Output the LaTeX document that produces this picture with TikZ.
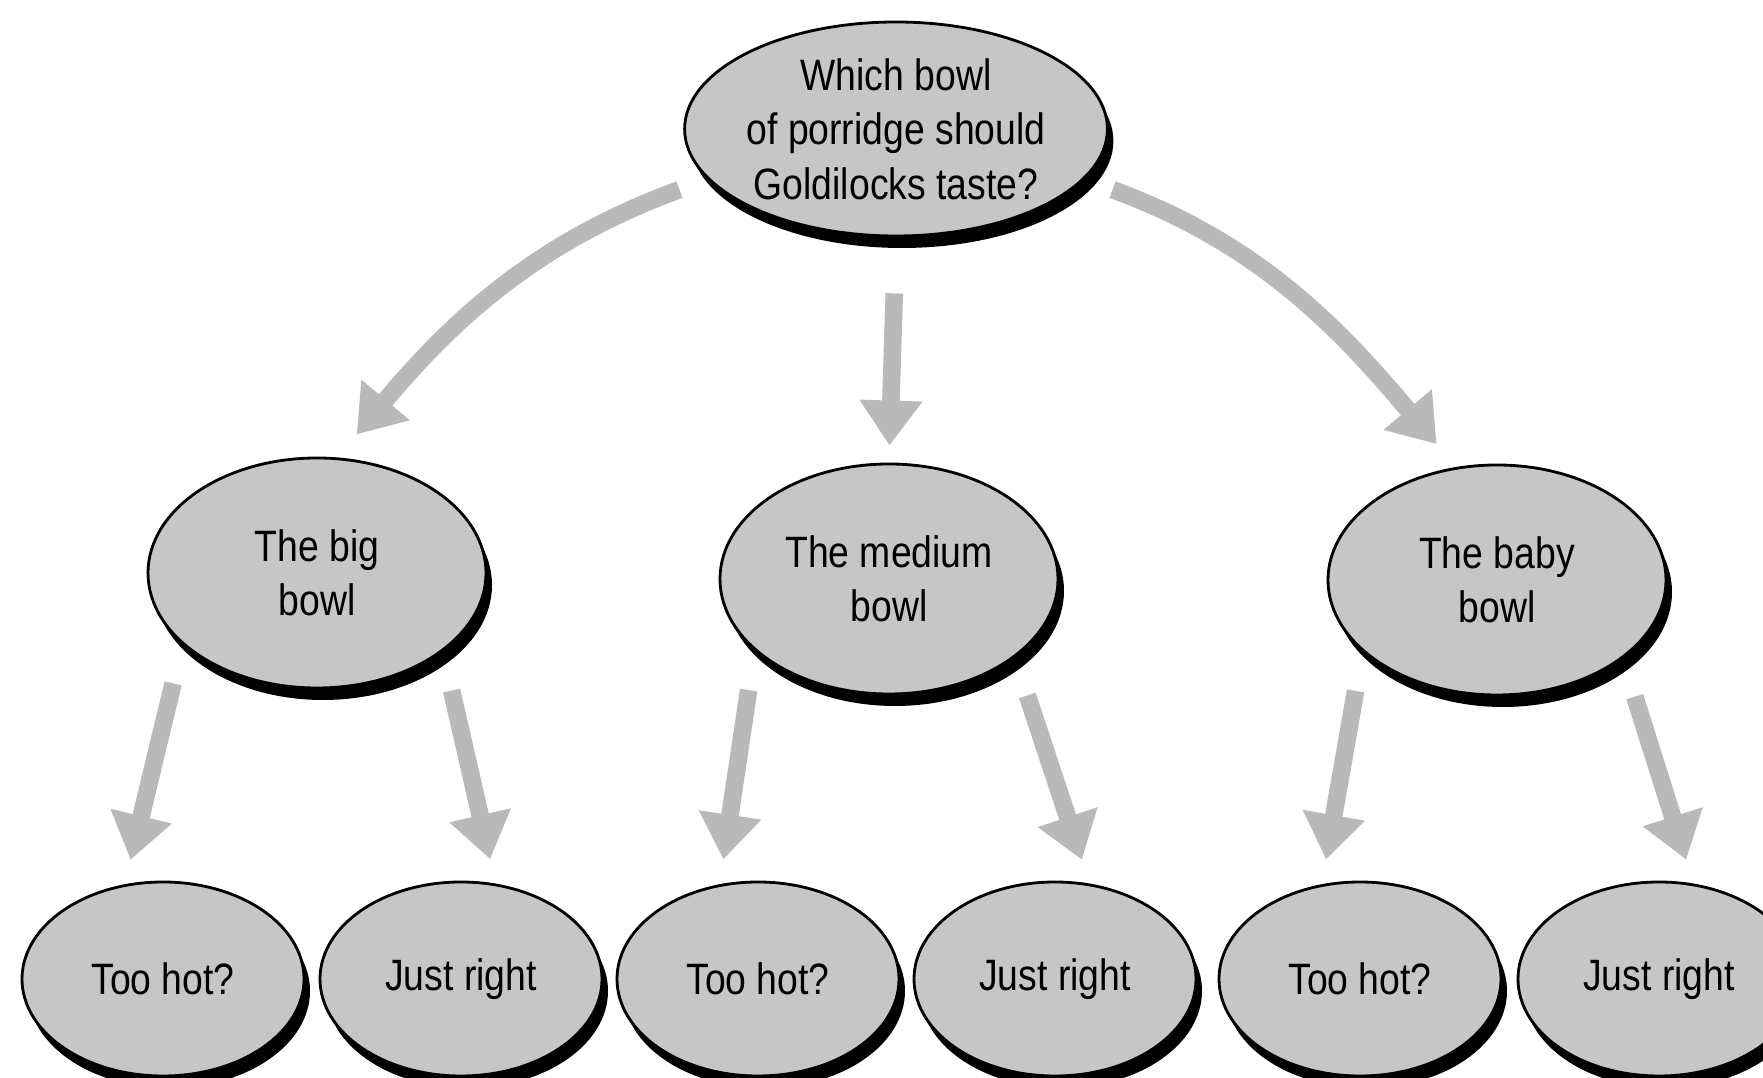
\documentclass[tikz,border=0pt]{standalone}
\usepackage{fontspec}
\setmainfont{Liberation Sans}[FakeStretch=0.85]
\usetikzlibrary{shapes.geometric, arrows.meta, positioning, shadows}

\begin{document}
\begin{tikzpicture}[
  bowl/.style={ellipse, draw=black, line width=0.8pt, fill=gray!45, align=center, inner sep=0pt,
    font=\fontsize{12.5}{15.5}\selectfont,
    drop shadow={shadow xshift=0.6mm, shadow yshift=-1.2mm, fill=black, opacity=1}},
  bigbowl/.style={bowl, minimum width=3.38cm, minimum height=2.3cm},
  smallbowl/.style={bowl, minimum width=2.82cm, minimum height=1.94cm},
  arr/.style={-{Triangle[length=0.45cm, width=0.6cm]}, line width=5pt, gray!55}
]
\useasboundingbox (0,0) rectangle (17.63,-10.78);
\clip (0,0) rectangle (17.63,-10.78);

% Question
\node[bowl, minimum width=3.32cm, minimum height=2.14cm] (q) at (8.96,-1.29)
  {Which bowl\\of porridge should\\Goldilocks taste?};

% Bowls
\node[bigbowl] (big) at (3.17,-5.73) {The big\\bowl};
\node[bigbowl] (medium) at (8.89,-5.79) {The medium\\bowl};
\node[bigbowl] (baby) at (14.97,-5.80) {The baby\\bowl};

% Answers
\node[smallbowl] (hotA) at (1.63,-9.79) {Too hot?};
\node[smallbowl] (rightA) at (4.61,-9.79) {Just right};
\node[smallbowl] (hotB) at (7.58,-9.79) {Too hot?};
\node[smallbowl] (rightB) at (10.55,-9.79) {Just right};
\node[smallbowl] (hotC) at (13.60,-9.79) {Too hot?};
\node[smallbowl] (rightC) at (16.59,-9.79) {Just right};

% Arrows from the question
\draw[arr, shorten <=0.3cm, shorten >=0.3cm] (q.195) to[out=200, in=50] (big.80);
\draw[arr, shorten <=0.56cm, shorten >=0.17cm] (q.south) -- (medium.north);
\draw[arr, shorten <=0.3cm, shorten >=0.3cm] (q.-15) to[out=-20, in=130] (baby.110);

% Arrows from the bowls
\draw[arr, shorten <=0.4cm, shorten >=0.25cm] (big.208) -- (hotA.112);
\draw[arr, shorten <=0.4cm, shorten >=0.25cm] (big.-32) -- (rightA.70);
\draw[arr, shorten <=0.4cm, shorten >=0.25cm] (medium.208) -- (hotB.112);
\draw[arr, shorten <=0.4cm, shorten >=0.25cm] (medium.-32) -- (rightB.70);
\draw[arr, shorten <=0.4cm, shorten >=0.25cm] (baby.208) -- (hotC.112);
\draw[arr, shorten <=0.4cm, shorten >=0.25cm] (baby.-32) -- (rightC.70);
\end{tikzpicture}
\end{document}
